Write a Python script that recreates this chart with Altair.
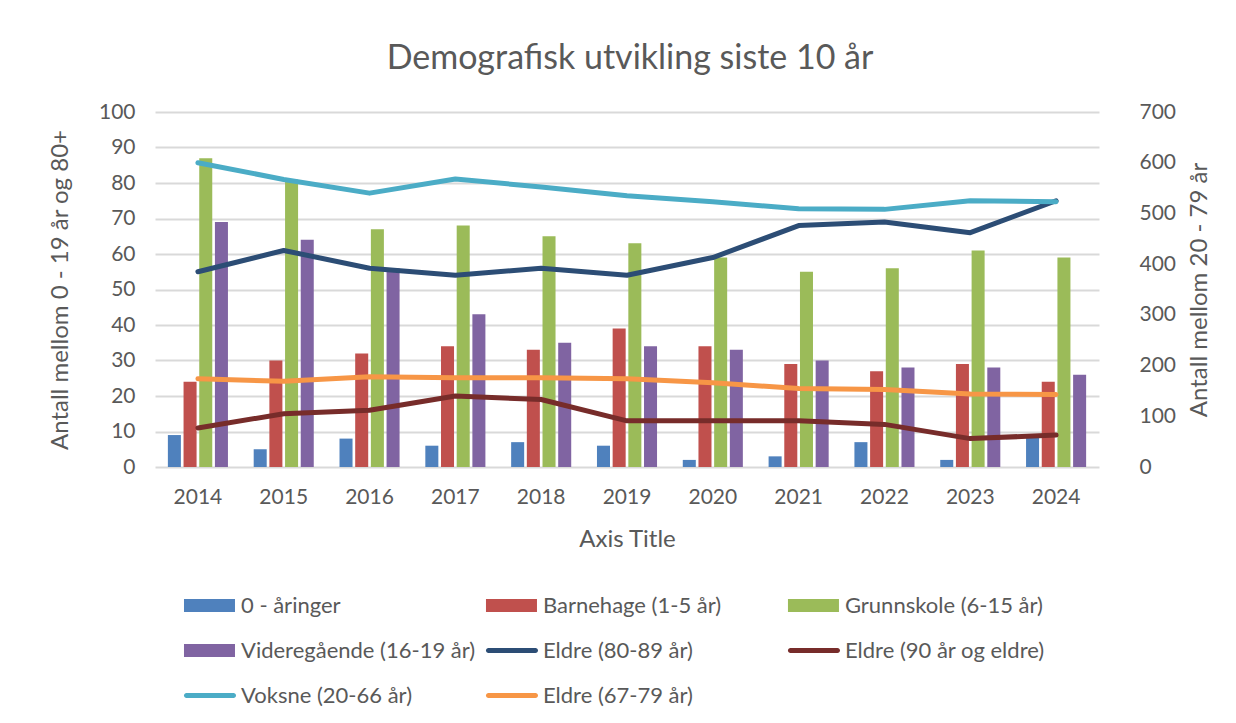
import altair as alt
import pandas as pd

years = [2014, 2015, 2016, 2017, 2018, 2019, 2020, 2021, 2022, 2023, 2024]

bar_names = ["0 - åringer", "Barnehage (1-5 år)", "Grunnskole (6-15 år)", "Videregående (16-19 år)"]
nullaringer = [9, 5, 8, 6, 7, 6, 2, 3, 7, 2, 9]
barnehage = [24, 30, 32, 34, 33, 39, 34, 29, 27, 29, 24]
grunnskole = [87, 81, 67, 68, 65, 63, 59, 55, 56, 61, 59]
videregaende = [69, 64, 56, 43, 35, 34, 33, 30, 28, 28, 26]

left_line_names = ["Eldre (80-89 år)", "Eldre (90 år og eldre)"]
eldre_80_89 = [55, 61, 56, 54, 56, 54, 59, 68, 69, 66, 75]
eldre_90 = [11, 15, 16, 20, 19, 13, 13, 13, 12, 8, 9]

right_line_names = ["Voksne (20-66 år)", "Eldre (67-79 år)"]
voksne = [600, 567, 540, 568, 552, 535, 523, 509, 508, 525, 523]
eldre_67_79 = [174, 169, 178, 176, 176, 174, 166, 155, 153, 144, 143]

legend_order = bar_names + left_line_names + right_line_names
colors = ["#4F81BD", "#C0504D", "#9BBB59", "#8064A2", "#2C4D75", "#772C2A", "#4BACC6", "#F79646"]

title_text = "Demografisk utvikling siste 10 år"
x_title = "Axis Title"
left_title = "Antall mellom 0 - 19 år og 80+"
right_title = "Antall mellom 20 - 79 år"

TXT = "#595959"
FONT = "Lato"


def long_df(names, series):
    rows = []
    for n, vals in zip(names, series):
        for yr, v in zip(years, vals):
            rows.append({"År": str(yr), "Serie": n, "Antall": v})
    return pd.DataFrame(rows)


bars_df = long_df(bar_names, [nullaringer, barnehage, grunnskole, videregaende])
left_df = long_df(left_line_names, [eldre_80_89, eldre_90])
right_df = long_df(right_line_names, [voksne, eldre_67_79])

color = alt.Color("Serie:N", scale=alt.Scale(domain=legend_order, range=colors), legend=None)

x_enc = alt.X(
    "År:N",
    scale=alt.Scale(paddingInner=0.3, paddingOuter=0.15),
    axis=alt.Axis(
        title=x_title, labelAngle=0, ticks=False, domain=False,
        labelPadding=19, titlePadding=20, labelFontSize=21, titleFontSize=24,
        labelColor=TXT, titleColor=TXT, titleFontWeight="normal",
    ),
)

y_left = alt.Y(
    "Antall:Q",
    scale=alt.Scale(domain=[0, 100]),
    axis=alt.Axis(
        title=left_title, values=list(range(0, 101, 10)), grid=True,
        gridColor="#d9d9d9", gridWidth=2, domain=False, ticks=False,
        labelPadding=20, titlePadding=26, labelFontSize=21, titleFontSize=24,
        labelColor=TXT, titleColor=TXT, titleFontWeight="normal",
    ),
)

y_right = alt.Y(
    "Antall:Q",
    scale=alt.Scale(domain=[0, 700]),
    axis=alt.Axis(
        title=right_title, orient="right", values=list(range(0, 701, 100)), grid=False,
        domain=False, ticks=False, labelPadding=40, titlePadding=12, titleAngle=270,
        titleBaseline="top",
        labelFontSize=21, titleFontSize=24, labelColor=TXT, titleColor=TXT,
        titleFontWeight="normal",
    ),
)

bars = alt.Chart(bars_df).mark_bar().encode(
    x=x_enc,
    xOffset=alt.XOffset("Serie:N", sort=bar_names, scale=alt.Scale(paddingInner=0.17)),
    y=y_left,
    color=color,
)

line_style = dict(strokeWidth=5, strokeCap="round", strokeJoin="round")

lines_left = alt.Chart(left_df).mark_line(**line_style).encode(
    x=x_enc, y=y_left, color=color
)
lines_right = alt.Chart(right_df).mark_line(**line_style).encode(
    x=x_enc, y=y_right, color=color
)

main = alt.layer(alt.layer(bars, lines_left), lines_right).resolve_scale(y="independent").properties(
    width=944, height=355
)

# legend grid built from the series order
leg_rows = []
for i, n in enumerate(legend_order):
    leg_rows.append({"Serie": n, "kind": "bar" if n in bar_names else "line", "col": i % 3, "row": i // 3})
leg_df = pd.DataFrame(leg_rows)

lx = alt.X("col:Q", scale=alt.Scale(domain=[-0.096, 3.03]), axis=None)
ly = alt.Y("row:Q", scale=alt.Scale(domain=[-0.5, 2.5], reverse=True), axis=None)

leg_base = alt.Chart(leg_df).encode(x=lx, y=ly)
leg_bar = leg_base.transform_filter(alt.datum.kind == "bar").mark_tick(
    orient="horizontal", size=51, thickness=13, xOffset=25.5, opacity=1
).encode(color=color)
leg_line = leg_base.transform_filter(alt.datum.kind == "line").mark_tick(
    orient="horizontal", size=52, thickness=5, xOffset=26, cornerRadius=2.5, opacity=1
).encode(color=color)
leg_text = leg_base.mark_text(
    align="left", baseline="middle", dx=57, fontSize=22, font=FONT, color=TXT
).encode(text="Serie:N")

legend = alt.layer(leg_bar, leg_line, leg_text).properties(width=944, height=135)

chart = alt.vconcat(main, legend, spacing=32).properties(
    title=alt.TitleParams(
        title_text, fontSize=34, font=FONT, color=TXT, fontWeight="normal",
        anchor="middle", offset=25,
    ),
    padding={"left": 40, "top": 34, "right": 5, "bottom": 5},
).configure(font=FONT).configure_view(stroke=None)

chart.save("out.html", embed_options={"renderer": "svg", "actions": False})
